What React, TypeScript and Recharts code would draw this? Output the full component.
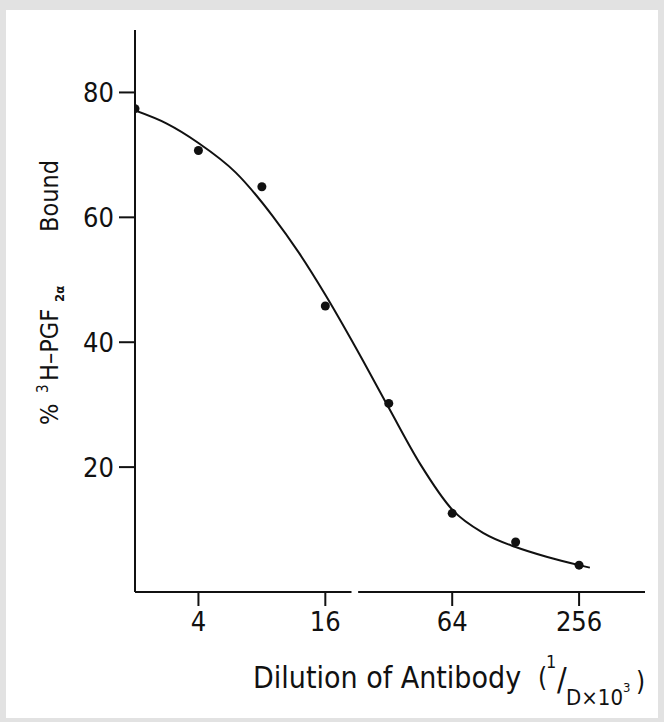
import { ComposedChart, Line, Scatter, XAxis, YAxis, ReferenceLine } from "recharts";

// measured points: antibody dilution (1/D x 10^3) vs % 3H-PGF2a bound
const dilutions = [2, 4, 8, 16, 32, 64, 128, 256];
const boundPct = [77.4, 70.7, 64.9, 45.8, 30.2, 12.6, 8.0, 4.3];

// hand-drawn fitted curve
const curveDilution = [2, 2.83, 4, 6, 9, 12, 16, 22.6, 32, 45.3, 64, 90.5, 128, 181, 256, 288];
const curveBound = [77.1, 75.0, 71.9, 67.2, 60.2, 54.3, 47.6, 38.8, 29.5, 20.4, 13.2, 9.4, 7.2, 5.6, 4.3, 3.9];

const xTicks = [4, 16, 64, 256];
const yTicks = [20, 40, 60, 80];
const xDomain = [2, 526];
const yDomain = [0, 90];
// the x axis is drawn broken between these two dilutions
const axisBreak = [21.3, 22.9];

const points = dilutions.map((x, i) => ({ x, y: boundPct[i] }));
const curve = curveDilution.map((x, i) => ({ x, y: curveBound[i] }));

const tickFont = {
  fontFamily: "'DejaVu Sans Condensed', 'DejaVu Sans', sans-serif",
  fontStretch: "condensed",
  fontSize: 27,
  fill: "#111",
};

function YTitle() {
  return (
    <text
      transform="translate(58,425) rotate(-90)"
      style={{ ...tickFont, fontSize: 25 }}
    >
      <tspan x={0}>%</tspan>
      <tspan x={32} dy={-10} fontSize={15}>3</tspan>
      <tspan x={44} dy={10}>H–PGF</tspan>
      <tspan x={123} dy={6} fontSize={13} fontWeight="bold">2α</tspan>
      <tspan x={193} dy={-6}>Bound</tspan>
    </text>
  );
}

function XTitle() {
  return (
    <text style={{ ...tickFont, fontSize: 30 }}>
      <tspan x={253} y={688}>Dilution of Antibody</tspan>
      <tspan x={538} y={686} fontSize={26}>(</tspan>
      <tspan x={546} y={668} fontSize={18}>1</tspan>
      <tspan x={557} y={690} fontSize={32}>/</tspan>
      <tspan x={566} y={705} fontSize={22}>D×10</tspan>
      <tspan x={623} y={692} fontSize={13}>3</tspan>
      <tspan x={636} y={690} fontSize={26}>)</tspan>
    </text>
  );
}

export default function App() {
  return (
    <div
      style={{
        position: "absolute",
        left: 0,
        top: 0,
        width: 664,
        height: 722,
        background: "#e2e2e2",
      }}
    >
      <div
        style={{
          position: "absolute",
          left: 6,
          top: 10,
          width: 652,
          height: 708,
          background: "#fff",
        }}
      />
      <div style={{ position: "absolute", left: 0, top: 0 }}>
        <ComposedChart
          width={664}
          height={722}
          margin={{ top: 30, right: 19, bottom: 0, left: 0 }}
        >
          <XAxis
            dataKey="x"
            type="number"
            scale="log"
            domain={xDomain}
            ticks={xTicks}
            allowDataOverflow
            axisLine={false}
            tickLine={{ stroke: "#111", strokeWidth: 2 }}
            tickSize={14}
            tickMargin={6}
            tick={tickFont}
            height={130}
            label={{ content: () => <XTitle /> }}
          />
          <YAxis
            type="number"
            domain={yDomain}
            ticks={yTicks}
            allowDataOverflow
            axisLine={{ stroke: "#111", strokeWidth: 2 }}
            tickLine={{ stroke: "#111", strokeWidth: 2 }}
            tickSize={16}
            tickMargin={5}
            tick={tickFont}
            width={135}
            label={{ content: () => <YTitle /> }}
          />
          <ReferenceLine
            segment={[{ x: xDomain[0], y: 0 }, { x: axisBreak[0], y: 0 }]}
            stroke="#111"
            strokeWidth={2}
            ifOverflow="visible"
          />
          <ReferenceLine
            segment={[{ x: axisBreak[1], y: 0 }, { x: xDomain[1], y: 0 }]}
            stroke="#111"
            strokeWidth={2}
            ifOverflow="visible"
          />
          <Line
            data={curve}
            dataKey="y"
            type="monotone"
            stroke="#111"
            strokeWidth={2}
            dot={false}
            activeDot={false}
            isAnimationActive={false}
          />
          <Scatter
            data={points}
            dataKey="y"
            fill="#111"
            shape={(p: any) => <circle cx={p.cx} cy={p.cy} r={4.5} fill="#111" />}
            isAnimationActive={false}
          />
        </ComposedChart>
      </div>
    </div>
  );
}
